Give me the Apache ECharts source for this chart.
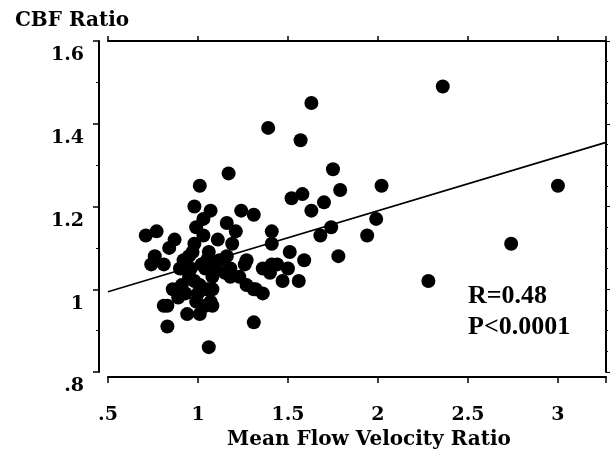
<!DOCTYPE html>
<html>
<head>
<meta charset="utf-8">
<script src="https://cdn.jsdelivr.net/npm/echarts@6/dist/echarts.min.js"></script>
<style>
  html, body { margin: 0; padding: 0; background: #fff; }
  #chart { width: 612px; height: 450px; }
</style>
</head>
<body>
<div id="chart"></div>
<script>
// mean flow velocity ratio (x) and CBF ratio (y), one entry per patient
const velocityRatio = [
  2.36, 1.63, 1.39, 1.57, 1.17, 1.75, 1.01, 2.02, 1.79, 1.52,
  1.58, 1.70, 0.98, 1.07, 1.24, 1.63, 1.31, 1.03, 1.99, 1.16,
  0.99, 1.41, 1.21, 1.74, 0.71, 0.77, 1.68, 1.94, 3.00, 2.74,
  2.28, 0.87, 0.84, 1.11, 1.41, 1.06, 0.76, 0.74, 0.81, 0.95,
  0.93, 1.05, 1.16, 1.19, 1.26, 1.18, 1.51, 1.59, 1.78, 1.36,
  1.41, 1.44, 1.15, 1.23, 1.27, 0.90, 0.96, 1.18, 1.27, 1.32,
  1.47, 1.56, 1.36, 1.31, 0.91, 0.86, 1.01, 1.08, 1.07, 0.99,
  0.81, 0.83, 0.94, 1.01, 1.08, 0.83, 1.31, 1.06, 1.40, 1.50,
  0.98, 1.04, 1.09, 0.93, 1.04, 0.98, 1.12, 0.89, 0.95, 1.02,
  1.00, 1.05, 0.97, 1.03, 1.08, 0.92
];
const cbfRatio = [
  1.49, 1.45, 1.39, 1.36, 1.28, 1.29, 1.25, 1.25, 1.24, 1.22,
  1.23, 1.21, 1.20, 1.19, 1.19, 1.19, 1.18, 1.17, 1.17, 1.16,
  1.15, 1.14, 1.14, 1.15, 1.13, 1.14, 1.13, 1.13, 1.25, 1.11,
  1.02, 1.12, 1.10, 1.12, 1.11, 1.09, 1.08, 1.06, 1.06, 1.08,
  1.05, 1.07, 1.08, 1.11, 1.06, 1.05, 1.09, 1.07, 1.08, 1.05,
  1.06, 1.06, 1.04, 1.03, 1.07, 1.05, 1.05, 1.03, 1.01, 1.00,
  1.02, 1.02, 0.99, 1.00, 1.01, 1.00, 1.01, 1.00, 0.97, 0.97,
  0.96, 0.96, 0.94, 0.94, 0.96, 0.91, 0.92, 0.86, 1.04, 1.05,
  1.02, 1.05, 1.05, 0.99, 0.96, 1.11, 1.07, 0.98, 1.03, 1.06,
  0.99, 1.00, 1.09, 1.13, 1.03, 1.07
];

// regression line end points
const fitX = [0.5, 3.267];
const fitY = [0.994, 1.355];

const xTickValues = [0.5, 1, 1.5, 2, 2.5, 3];
const xTickLabels = ['.5', '1', '1.5', '2', '2.5', '3'];
const yTickValues = [0.8, 1, 1.2, 1.4, 1.6];
const yTickLabels = ['.8', '1', '1.2', '1.4', '1.6'];

const statLines = ['R=0.48', 'P<0.0001'];

function pickLabel(values, labels) {
  return function (v) {
    const i = values.findIndex(t => Math.abs(t - v) < 1e-6);
    return i < 0 ? '' : labels[i];
  };
}

const axisFont = {
  fontFamily: '"DejaVu Serif"',
  fontWeight: 'bold',
  color: '#000'
};

const chart = echarts.init(document.getElementById('chart'), null, { renderer: 'canvas' });

chart.setOption({
  backgroundColor: '#fff',
  animation: false,
  grid: { left: 108, right: 6, top: 41, bottom: 78, outerBoundsMode: 'none' },
  xAxis: [
    {
      type: 'value',
      min: 0.5,
      max: 3.267,
      interval: 0.5,
      offset: 5,
      splitLine: { show: false },
      axisLine: { lineStyle: { color: '#000', width: 2 } },
      axisTick: { inside: false, length: 6, lineStyle: { color: '#000', width: 1.5 } },
      axisLabel: Object.assign({
        fontSize: 19,
        margin: 29,
        formatter: pickLabel(xTickValues, xTickLabels)
      }, axisFont),
      name: 'Mean Flow Velocity Ratio',
      nameLocation: 'middle',
      nameGap: 50,
      nameTextStyle: Object.assign({ fontSize: 20, padding: [0, 0, 0, 24] }, axisFont)
    },
    {
      type: 'value',
      position: 'top',
      min: 0.5,
      max: 3.267,
      interval: 0.5,
      splitLine: { show: false },
      axisLine: { lineStyle: { color: '#000', width: 2 } },
      axisTick: { inside: false, length: 5, lineStyle: { color: '#000', width: 1.5 } },
      axisLabel: { show: false }
    }
  ],
  yAxis: [
    {
      type: 'value',
      min: 0.8,
      max: 1.6,
      interval: 0.2,
      offset: 9,
      splitLine: { show: false },
      axisLine: { lineStyle: { color: '#000', width: 2 } },
      axisTick: { inside: false, length: 6, lineStyle: { color: '#000', width: 1.5 } },
      minorTick: { show: true, splitNumber: 2, length: 3, lineStyle: { color: '#000', width: 1 } },
      axisLabel: Object.assign({
        fontSize: 19,
        margin: 15,
        verticalAlign: 'top',
        padding: [5, 0, 0, 0],
        formatter: pickLabel(yTickValues, yTickLabels)
      }, axisFont),
      name: 'CBF Ratio',
      nameLocation: 'end',
      nameGap: 10,
      nameTextStyle: Object.assign({ fontSize: 20, padding: [0, 54, 0, 0] }, axisFont)
    },
    {
      type: 'value',
      position: 'right',
      min: 0.8,
      max: 1.6,
      interval: 0.2,
      splitLine: { show: false },
      axisLine: { lineStyle: { color: '#000', width: 2 } },
      axisTick: { inside: false, length: 4, lineStyle: { color: '#000', width: 1 } },
      minorTick: { show: true, splitNumber: 4, length: 2, lineStyle: { color: '#000', width: 1 } },
      axisLabel: { show: false }
    }
  ],
  series: [
    {
      name: 'patients',
      type: 'scatter',
      xAxisIndex: 0,
      yAxisIndex: 0,
      symbol: 'circle',
      symbolSize: 14,
      itemStyle: { color: '#000', opacity: 1 },
      data: velocityRatio.map((v, i) => [v, cbfRatio[i]])
    },
    {
      name: 'fit',
      type: 'line',
      xAxisIndex: 0,
      yAxisIndex: 0,
      symbol: 'none',
      lineStyle: { color: '#000', width: 1.6 },
      data: fitX.map((v, i) => [v, fitY[i]])
    }
  ],
  graphic: statLines.map((t, i) => ({
    type: 'text',
    x: 468,
    y: 296 + i * 31,
    style: {
      text: t,
      font: 'bold 26px "Liberation Serif"',
      fill: '#000',
      textAlign: 'left',
      align: 'left',
      textVerticalAlign: 'middle',
      verticalAlign: 'middle'
    }
  }))
});
</script>
</body>
</html>
